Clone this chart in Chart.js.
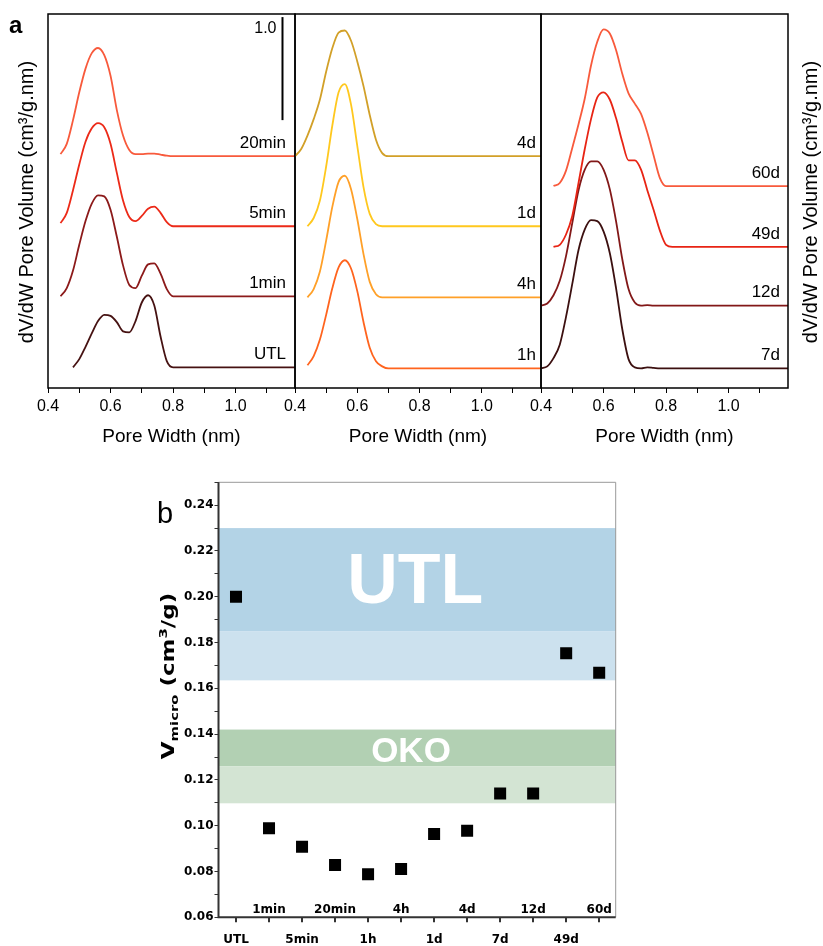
<!DOCTYPE html>
<html>
<head>
<meta charset="utf-8">
<script src="https://cdn.jsdelivr.net/npm/chart.js@4.4.1/dist/chart.umd.min.js"></script>
<style>
  body { margin: 0; background: #fff; }
  #wrap { position: relative; width: 823px; height: 946px; }
  .box { position: absolute; }
</style>
</head>
<body>
<div id="wrap">
  <div class="box" style="left:0;top:0;width:300px;height:460px"><canvas id="psdA"></canvas></div>
  <div class="box" style="left:255px;top:0;width:290px;height:460px"><canvas id="psdB"></canvas></div>
  <div class="box" style="left:501px;top:0;width:322px;height:460px"><canvas id="psdC"></canvas></div>
  <div class="box" style="left:0;top:460px;width:823px;height:486px"><canvas id="vmicro"></canvas></div>
</div>
<script>
// pore width grid (nm) shared by all distributions
const poreWidth = [0.40, 0.42, 0.44, 0.46, 0.48, 0.50, 0.52, 0.54, 0.56, 0.58, 0.60,
                   0.62, 0.64, 0.66, 0.68, 0.70, 0.72, 0.74, 0.76, 0.78, 0.80, 0.82, 1.19];

// dV/dW, short treatment times
const psd20min = [null, null, 0.02, 0.12, 0.35, 0.62, 0.85, 1.00, 1.05, 0.98, 0.78, 0.45, 0.20, 0.06, 0.02, 0.02, 0.025, 0.025, 0.015, 0.005, 0, 0, 0];
const psd5min  = [null, null, 0.03, 0.13, 0.35, 0.60, 0.82, 0.95, 1.00, 0.96, 0.80, 0.52, 0.25, 0.09, 0.05, 0.10, 0.17, 0.19, 0.13, 0.04, 0, 0, 0];
const psd1min  = [null, null, 0.00, 0.08, 0.25, 0.50, 0.73, 0.90, 0.98, 0.97, 0.84, 0.58, 0.30, 0.11, 0.08, 0.20, 0.31, 0.32, 0.22, 0.07, 0, 0, 0];
const psdUTL   = [null, null, null, null, 0.00, 0.08, 0.20, 0.33, 0.45, 0.51, 0.50, 0.44, 0.35, 0.34, 0.45, 0.63, 0.70, 0.60, 0.30, 0.06, 0, 0, 0];

// hours to days
const psd4d = [0.00, 0.07, 0.20, 0.36, 0.55, 0.82, 1.05, 1.20, 1.22, 1.12, 0.92, 0.68, 0.40, 0.16, 0.03, 0, 0, 0, 0, 0, 0, 0, 0];
const psd1d = [null, null, 0.00, 0.08, 0.25, 0.58, 0.98, 1.30, 1.38, 1.18, 0.78, 0.38, 0.12, 0.02, 0, 0, 0, 0, 0, 0, 0, 0, 0];
const psd4h = [null, null, 0.00, 0.08, 0.25, 0.55, 0.88, 1.12, 1.18, 1.05, 0.76, 0.42, 0.15, 0.03, 0, 0, 0, 0, 0, 0, 0, 0, 0];
const psd1h = [null, null, 0.03, 0.12, 0.28, 0.52, 0.78, 0.98, 1.05, 0.97, 0.75, 0.45, 0.20, 0.07, 0.02, 0, 0, 0, 0, 0, 0, 0, 0];

// long treatment times
const psd60d = [null, null, 0.00, 0.03, 0.15, 0.37, 0.60, 0.85, 1.17, 1.40, 1.52, 1.48, 1.32, 1.09, 0.90, 0.80, 0.70, 0.52, 0.30, 0.08, 0, 0, 0];
const psd49d = [null, null, 0.00, 0.02, 0.12, 0.30, 0.62, 0.95, 1.24, 1.45, 1.50, 1.43, 1.25, 1.02, 0.84, 0.84, 0.75, 0.55, 0.36, 0.16, 0.02, 0, 0];
const psd12d = [0.00, 0.02, 0.10, 0.24, 0.48, 0.80, 1.12, 1.32, 1.40, 1.40, 1.32, 1.13, 0.82, 0.45, 0.16, 0.03, 0, 0.005, 0, 0, 0, 0, 0];
const psd7d  = [0.00, 0.02, 0.10, 0.23, 0.50, 0.82, 1.15, 1.35, 1.44, 1.43, 1.33, 1.12, 0.78, 0.38, 0.09, 0.01, 0, 0.01, 0.005, 0, 0, 0, 0];

// vertical stacking offsets
const offsetsA = [2.25, 1.57, 0.89, 0.20];
const offsetsB = [2.25, 1.57, 0.88, 0.19];
const offsetsC = [1.96, 1.37, 0.80, 0.19];

// micropore volume vs treatment time
const samples = ['UTL', '1min', '5min', '20min', '1h', '4h', '1d', '4d', '7d', '12d', '49d', '60d'];
const vMicro = [0.200, 0.0989, 0.0908, 0.0828, 0.0788, 0.0811, 0.0964, 0.0978, 0.1141, 0.1141, 0.1753, 0.1668];
const utlRange = [0.1635, 0.185, 0.230];
const okoRange = [0.1098, 0.126, 0.142];

const SANS = 'Arial, "Liberation Sans", sans-serif';
const DEJAVU = '"DejaVu Sans", sans-serif';
Chart.defaults.font.family = SANS;
Chart.defaults.color = '#000';

const yTitle = 'dV/dW Pore Volume (cm\u00b3/g.nm)';

function psdPanel(id, names, curves, offsets, colors, opt) {
  const decor = {
    id: 'decor',
    afterDraw(chart) {
      const {ctx, chartArea: a, scales: {x, y}} = chart;
      ctx.save();
      ctx.strokeStyle = '#000';
      ctx.lineWidth = 1.5;
      ctx.strokeRect(a.left, a.top, a.right - a.left, a.bottom - a.top);

      ctx.fillStyle = '#000';
      ctx.font = '17px ' + SANS;
      ctx.textAlign = 'right';
      ctx.textBaseline = 'middle';
      names.forEach((n, i) => ctx.fillText(n, a.right - opt.inset, y.getPixelForValue(offsets[i]) - 13));

      if (opt.scaleBar) {
        const bx = x.getPixelForValue(1.15);
        ctx.lineWidth = 2;
        ctx.beginPath();
        ctx.moveTo(bx, y.getPixelForValue(3.6));
        ctx.lineTo(bx, y.getPixelForValue(2.6));
        ctx.stroke();
        ctx.font = '16px ' + SANS;
        ctx.fillText('1.0', bx - 6, y.getPixelForValue(3.6) + 12);
      }
      if (opt.tag) {
        ctx.textAlign = 'left';
        ctx.textBaseline = 'alphabetic';
        ctx.font = 'bold 24px ' + SANS;
        ctx.fillText(opt.tag, 9, 33);
      }
      if (opt.titleX !== undefined) {
        ctx.translate(opt.titleX, 202);
        ctx.rotate(-Math.PI / 2);
        ctx.textAlign = 'center';
        ctx.textBaseline = 'middle';
        ctx.font = '20px ' + SANS;
        ctx.fillText(yTitle, 0, 0);
      }
      ctx.restore();
    }
  };

  return new Chart(id, {
    type: 'line',
    data: {
      datasets: curves.map((c, i) => ({
        label: names[i],
        data: poreWidth.map((w, k) => ({x: w, y: c[k] === null ? null : c[k] + offsets[i]})),
        borderColor: colors[i],
        borderWidth: 1.8,
        pointRadius: 0,
        fill: false,
        cubicInterpolationMode: 'monotone'
      }))
    },
    options: {
      animation: false,
      responsive: true,
      maintainAspectRatio: false,
      layout: {padding: {left: opt.padL, right: opt.padR, top: 14, bottom: 0}},
      plugins: {legend: {display: false}, tooltip: {enabled: false}},
      scales: {
        x: {
          type: 'linear', min: 0.4, max: 1.19,
          ticks: {
            stepSize: 0.1, includeBounds: false, autoSkip: false, maxRotation: 0,
            padding: 4, font: {size: 16},
            callback: v => Math.round(v * 10) % 2 === 0 ? v.toFixed(1) : ''
          },
          grid: {drawOnChartArea: false, tickLength: 5, color: '#000'},
          border: {display: false},
          title: {display: true, text: 'Pore Width (nm)', font: {size: 19}, padding: {top: 0, bottom: 12}},
          afterFit: s => { s.height = 72; }
        },
        y: {display: false, min: 0, max: 3.63}
      }
    },
    plugins: [decor]
  });
}

psdPanel('psdA', ['20min', '5min', '1min', 'UTL'], [psd20min, psd5min, psd1min, psdUTL], offsetsA,
  ['#f85a3c', '#ec2a18', '#8c1a1a', '#461212'],
  {padL: 48, padR: 5, inset: 9, scaleBar: true, tag: 'a', titleX: 27});
psdPanel('psdB', ['4d', '1d', '4h', '1h'], [psd4d, psd1d, psd4h, psd1h], offsetsB,
  ['#d2a028', '#ffc81e', '#ffa028', '#ff641e'],
  {padL: 40, padR: 4, inset: 5});
psdPanel('psdC', ['60d', '49d', '12d', '7d'], [psd60d, psd49d, psd12d, psd7d], offsetsC,
  ['#f85a3c', '#e82414', '#821818', '#3c1010'],
  {padL: 40, padR: 35, inset: 8, titleX: 310});

// bottom panel: shaded reference ranges, labels and frame
const bandPlugin = {
  id: 'bands',
  beforeDatasetsDraw(chart) {
    const {ctx, chartArea: a, scales: {x, y}} = chart;
    const band = (lo, hi, col) => {
      const top = y.getPixelForValue(hi), bot = y.getPixelForValue(lo);
      ctx.fillStyle = col;
      ctx.fillRect(a.left, top, a.right - a.left, bot - top);
    };
    ctx.save();
    band(utlRange[1], utlRange[2], '#b3d3e6');
    band(utlRange[0], utlRange[1], '#cce1ee');
    band(okoRange[1], okoRange[2], '#b2d0b3');
    band(okoRange[0], okoRange[1], '#d3e4d3');
    ctx.fillStyle = '#fff';
    ctx.textAlign = 'center';
    ctx.textBaseline = 'middle';
    ctx.font = 'bold 70px ' + SANS;
    ctx.fillText('UTL', x.getPixelForValue(5.43), y.getPixelForValue(0.2058));
    ctx.font = 'bold 35px ' + SANS;
    ctx.fillText('OKO', x.getPixelForValue(5.3), y.getPixelForValue(0.1322));
    ctx.restore();
  },
  afterDraw(chart) {
    const {ctx, chartArea: a, scales: {x}} = chart;
    ctx.save();
    ctx.strokeStyle = '#999';
    ctx.lineWidth = 1;
    ctx.beginPath();
    ctx.moveTo(a.left, a.top); ctx.lineTo(a.right, a.top); ctx.lineTo(a.right, a.bottom);
    ctx.stroke();
    ctx.strokeStyle = '#333';
    ctx.lineWidth = 2;
    ctx.beginPath();
    ctx.moveTo(a.left, a.top); ctx.lineTo(a.left, a.bottom); ctx.lineTo(a.right, a.bottom);
    ctx.stroke();

    // every other sample name sits just above the axis
    ctx.fillStyle = '#000';
    ctx.font = 'bold 12px ' + DEJAVU;
    ctx.textAlign = 'center';
    ctx.textBaseline = 'middle';
    samples.forEach((s, i) => { if (i % 2 === 1) ctx.fillText(s, x.getPixelForValue(i), a.bottom - 7); });

    ctx.textAlign = 'left';
    ctx.textBaseline = 'alphabetic';
    ctx.font = '29px ' + SANS;
    ctx.fillText('b', 157, 63);

    // V_micro (cm3/g)
    const parts = [
      ['V', 17, 0], ['micro', 11, 4], [' (cm', 17, 0], ['3', 11, -7], ['/g)', 17, 0]
    ];
    let w = 0;
    parts.forEach(p => { ctx.font = 'bold ' + p[1] + 'px ' + DEJAVU; w += ctx.measureText(p[0]).width; });
    ctx.translate(174, 216);
    ctx.rotate(-Math.PI / 2);
    ctx.scale(1.35, 1);
    let cx = -w / 2;
    parts.forEach(p => {
      ctx.font = 'bold ' + p[1] + 'px ' + DEJAVU;
      ctx.fillText(p[0], cx, p[2]);
      cx += ctx.measureText(p[0]).width;
    });
    ctx.restore();
  }
};

new Chart('vmicro', {
  type: 'scatter',
  data: {
    datasets: [{
      data: samples.map((s, i) => ({x: i, y: vMicro[i]})),
      pointStyle: 'rect',
      pointRadius: 8.5,
      backgroundColor: '#000',
      borderWidth: 0
    }]
  },
  options: {
    animation: false,
    responsive: true,
    maintainAspectRatio: false,
    layout: {padding: {left: 158.5, right: 207.3, top: 22.3, bottom: 0}},
    plugins: {legend: {display: false}, tooltip: {enabled: false}},
    scales: {
      x: {
        type: 'linear', min: -0.53, max: 11.5,
        ticks: {
          stepSize: 1, includeBounds: false, autoSkip: false, maxRotation: 0, padding: 10.5,
          font: {family: DEJAVU, size: 12, weight: 'bold'},
          callback: v => v % 2 === 0 ? samples[v] : ''
        },
        grid: {drawOnChartArea: false, tickLength: 5, color: '#333', lineWidth: 2},
        border: {display: false},
        afterFit: s => { s.height = 28.7; }
      },
      y: {
        min: 0.06, max: 0.25,
        ticks: {
          stepSize: 0.01, padding: 1, autoSkip: false,
          font: {family: DEJAVU, size: 12, weight: 'bold'},
          callback: v => Math.round(v * 100) % 2 === 0 ? v.toFixed(2) : ''
        },
        grid: {drawOnChartArea: false, tickLength: 4, color: '#333'},
        border: {display: false},
        afterFit: s => { s.width = 60; }
      }
    }
  },
  plugins: [bandPlugin]
});
</script>
</body>
</html>
